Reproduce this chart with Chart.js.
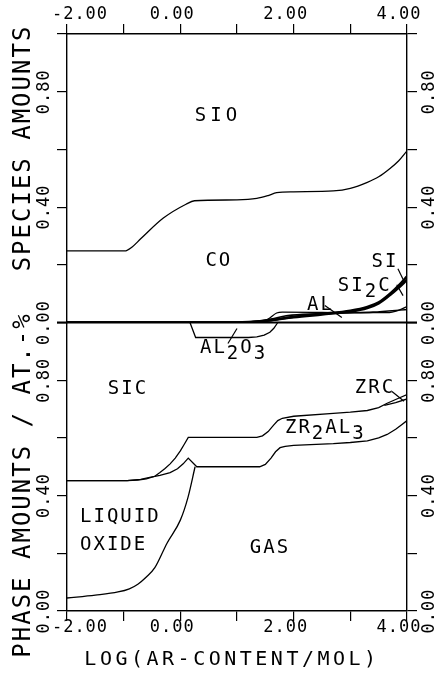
<!DOCTYPE html>
<html>
<head>
<meta charset="utf-8">
<script src="https://cdn.jsdelivr.net/npm/chart.js@4.4.1/dist/chart.umd.min.js"></script>
<style>
  html, body { margin: 0; padding: 0; background: #fff; }
  #wrap { width: 441px; height: 675px; }
</style>
</head>
<body>
<div id="wrap"><canvas id="chart" width="441" height="675"></canvas></div>
<script>
// --- DATA: x = log(Ar-content / mol) ---
const xTickValues = [-2, -1, 0, 1, 2, 3, 4];
const xTickLabels = ['-2.00', '', '0.00', '', '2.00', '', '4.00'];
const yTickValues = [0, 0.2, 0.4, 0.6, 0.8, 1.0];
const yTickLabels = ['0.00', '', '0.40', '', '0.80', ''];

// top panel: species amounts
const sioCoX = [-2, -0.98, -0.85, -0.7, -0.3, 0.1, 0.25, 1.0, 1.35, 1.55, 1.7, 2.0, 2.7, 3.0, 3.3, 3.5, 3.7, 3.85, 4.0];
const sioCoY = [0.248, 0.248, 0.262, 0.29, 0.362, 0.41, 0.422, 0.425, 0.43, 0.44, 0.45, 0.453, 0.456, 0.465, 0.486, 0.505, 0.534, 0.56, 0.595];

const humpX = [-2, 1.4, 1.55, 1.7, 1.8, 2.5, 3.0, 3.65, 3.85, 4.0];
const humpY = [0, 0, 0.012, 0.033, 0.036, 0.035, 0.034, 0.034, 0.042, 0.055];

const alX = [-2, 1.0, 1.3, 1.6, 1.9, 2.4, 2.9, 3.4, 4.0];
const alY = [0, 0, 0.003, 0.012, 0.024, 0.03, 0.033, 0.036, 0.045];

const si2cX = [-2, 1.0, 1.5, 2.0, 2.5, 3.0, 3.3, 3.5, 3.7, 3.85, 4.0];
const si2cY = [0, 0, 0.006, 0.018, 0.028, 0.038, 0.05, 0.066, 0.095, 0.12, 0.148];

const siX = [-2, 1.1, 1.6, 2.0, 2.5, 3.0, 3.3, 3.5, 3.7, 3.85, 4.0];
const siY = [0, 0, 0.008, 0.02, 0.03, 0.041, 0.054, 0.07, 0.1, 0.128, 0.16];

// bottom panel: phase amounts
const sicLowX = [-2, -0.94, -0.75, -0.6, -0.45, -0.36, -0.27, -0.18, -0.09, 0.0, 0.07, 0.14, 1.35, 1.45, 1.55, 1.65, 1.72, 1.8, 2.0, 2.7, 3.0, 3.3, 3.5, 3.65, 3.8, 4.0];
const sicLowY = [0.452, 0.452, 0.454, 0.458, 0.467, 0.48, 0.494, 0.51, 0.53, 0.555, 0.578, 0.602, 0.602, 0.607, 0.622, 0.645, 0.66, 0.668, 0.675, 0.685, 0.689, 0.695, 0.705, 0.72, 0.733, 0.75];

const zrcX = [3.6, 3.8, 4.0];
const zrcY = [0.713, 0.722, 0.735];

const gasTopX = [-2, -0.94, -0.7, -0.54, -0.36, -0.18, -0.05, 0.05, 0.14, 0.29, 1.4, 1.5, 1.6, 1.68, 1.76, 1.85, 2.0, 2.7, 3.0, 3.3, 3.5, 3.65, 3.8, 3.9, 4.0];
const gasTopY = [0.452, 0.452, 0.456, 0.463, 0.47, 0.48, 0.493, 0.51, 0.53, 0.5, 0.5, 0.508, 0.53, 0.552, 0.566, 0.571, 0.574, 0.58, 0.584, 0.59, 0.6, 0.612, 0.63, 0.645, 0.66];

const liquidX = [-2, -1.5, -1.1, -0.9, -0.75, -0.6, -0.45, -0.235, 0.0, 0.135, 0.26];
const liquidY = [0.045, 0.055, 0.066, 0.077, 0.093, 0.118, 0.15, 0.235, 0.315, 0.394, 0.5];

const al2o3X = [0.17, 0.27, 1.2, 1.35, 1.48, 1.58, 1.65, 1.72];
const al2o3Y = [1.0, 0.948, 0.948, 0.95, 0.956, 0.966, 0.98, 1.0];

// --- HELPERS ---
const FONT = '"DejaVu Sans Mono", "Liberation Mono", monospace';
const toPoints = (xs, ys) => xs.map((x, i) => ({ x: x, y: ys[i] }));

// smooth = monotone curve, otherwise straight segments (sharp knees)
function series(xs, ys, axis, width, smooth) {
    return {
        data: toPoints(xs, ys),
        yAxisID: axis,
        borderColor: '#000',
        borderWidth: width || 1.3,
        pointRadius: 0,
        fill: false,
        tension: 0,
        cubicInterpolationMode: smooth ? 'monotone' : 'default'
    };
}

function drawText(ctx, s, x, y, size, spacing, align, rot) {
    ctx.save();
    ctx.font = size + 'px ' + FONT;
    ctx.letterSpacing = spacing + 'px';
    ctx.fillStyle = '#000';
    ctx.textBaseline = 'middle';
    ctx.textAlign = align || 'center';
    ctx.translate(x, y);
    if (rot) ctx.rotate(rot);
    ctx.fillText(s, 0, 0);
    ctx.restore();
}

// label pieces: [text, vertical shift] so subscripts sit lower
function drawParts(ctx, parts, x, y, size, spacing, align) {
    ctx.save();
    ctx.font = size + 'px ' + FONT;
    ctx.letterSpacing = spacing + 'px';
    ctx.fillStyle = '#000';
    ctx.textBaseline = 'middle';
    ctx.textAlign = 'left';
    const total = parts.reduce((w, p) => w + ctx.measureText(p[0]).width, 0);
    let cx = align === 'center' ? x - total / 2 : x;
    parts.forEach(p => {
        ctx.fillText(p[0], cx, y + p[1]);
        cx += ctx.measureText(p[0]).width;
    });
    ctx.restore();
}

// annotations in data coordinates
const annotations = [
    { axis: 'yTop', x: 0.665, y: 0.717, parts: [['SIO', 0]], align: 'center', spacing: 4 },
    { axis: 'yTop', x: 0.68, y: 0.214, parts: [['CO', 0]], align: 'center' },
    { axis: 'yTop', x: 3.61, y: 0.21, parts: [['SI', 0]], align: 'center', ptr: [3.84, 0.186, 3.96, 0.138] },
    { axis: 'yTop', x: 2.78, y: 0.128, parts: [['SI', 0], ['2', 6], ['C', 0]], align: 'left', ptr: [3.82, 0.131, 3.93, 0.093] },
    { axis: 'yTop', x: 2.235, y: 0.062, parts: [['AL', 0]], align: 'left', ptr: [2.55, 0.059, 2.85, 0.017] },
    { axis: 'yBot', x: 0.347, y: 0.91, parts: [['AL', 0], ['2', 6], ['O', 0], ['3', 6]], align: 'left', ptr: [0.84, 0.927, 1.0, 0.979] },
    { axis: 'yBot', x: -0.924, y: 0.768, parts: [['SIC', 0]], align: 'center' },
    { axis: 'yBot', x: 3.435, y: 0.772, parts: [['ZRC', 0]], align: 'center', ptr: [3.735, 0.761, 3.947, 0.727] },
    { axis: 'yBot', x: 1.847, y: 0.633, parts: [['ZR', 0], ['2', 6], ['AL', 0], ['3', 6]], align: 'left' },
    { axis: 'yBot', x: -1.77, y: 0.325, parts: [['LIQUID', 0]], align: 'left' },
    { axis: 'yBot', x: -1.77, y: 0.228, parts: [['OXIDE', 0]], align: 'left' },
    { axis: 'yBot', x: 1.582, y: 0.218, parts: [['GAS', 0]], align: 'center' }
];

const decorPlugin = {
    id: 'decor',
    afterDraw(chart) {
        const ctx = chart.ctx;
        const area = chart.chartArea;
        const sx = chart.scales.x;
        const yTop = chart.scales.yTop;
        const yBot = chart.scales.yBot;

        // line between the two panels
        const midY = yTop.getPixelForValue(0);
        ctx.save();
        ctx.strokeStyle = '#000';
        ctx.lineWidth = 2;
        ctx.beginPath();
        ctx.moveTo(area.left - 10, midY);
        ctx.lineTo(area.right + 10, midY);
        ctx.stroke();
        ctx.restore();

        // x tick labels, top and bottom
        xTickValues.forEach((v, i) => {
            const lbl = xTickLabels[i];
            if (!lbl) return;
            const px = sx.getPixelForValue(v) + (i === 0 ? 13 : -8);
            drawText(ctx, lbl, px, area.top - 19, 17, 1, 'center');
            drawText(ctx, lbl, px, area.bottom + 17, 17, 1, 'center');
        });

        // y tick labels, rotated, both sides
        [yTop, yBot].forEach(sc => {
            yTickValues.forEach((v, i) => {
                const lbl = yTickLabels[i];
                if (!lbl) return;
                const py = sc.getPixelForValue(v);
                drawText(ctx, lbl, area.left - 22, py, 17, 1, 'center', -Math.PI / 2);
                drawText(ctx, lbl, area.right + 23, py, 17, 1, 'center', -Math.PI / 2);
            });
        });

        // axis titles
        drawText(ctx, 'LOG(AR-CONTENT/MOL)', (area.left + area.right) / 2 - 5, area.bottom + 49, 20, 3.5, 'center');
        drawText(ctx, 'SPECIES AMOUNTS', 24, area.top + 114, 24, 2, 'center', -Math.PI / 2);
        drawText(ctx, 'PHASE AMOUNTS / AT.-%', 24, area.top + 451, 24, 2, 'center', -Math.PI / 2);

        // species / phase labels with pointers
        annotations.forEach(a => {
            const sc = chart.scales[a.axis];
            drawParts(ctx, a.parts, sx.getPixelForValue(a.x), sc.getPixelForValue(a.y), 19, a.spacing || 2, a.align);
            if (a.ptr) {
                ctx.save();
                ctx.strokeStyle = '#000';
                ctx.lineWidth = 1.2;
                ctx.beginPath();
                ctx.moveTo(sx.getPixelForValue(a.ptr[0]), sc.getPixelForValue(a.ptr[1]));
                ctx.lineTo(sx.getPixelForValue(a.ptr[2]), sc.getPixelForValue(a.ptr[3]));
                ctx.stroke();
                ctx.restore();
            }
        });
    }
};

// --- SCALES ---
const gridOpts = { drawOnChartArea: false, drawTicks: true, tickLength: 10, color: '#000', lineWidth: 1.2 };
const borderOpts = { display: true, color: '#000', width: 1.4 };

function xScale(position, height) {
    return {
        type: 'linear', position: position, min: -2, max: 4,
        afterBuildTicks: s => { s.ticks = xTickValues.map(v => ({ value: v })); },
        ticks: { display: false },
        grid: gridOpts, border: borderOpts,
        afterFit: s => { s.height = height; }
    };
}

function yScale(position, stack, weight, width) {
    return {
        type: 'linear', position: position, stack: stack, weight: weight, min: 0, max: 1,
        afterBuildTicks: s => { s.ticks = yTickValues.map(v => ({ value: v })); },
        ticks: { display: false },
        grid: gridOpts, border: borderOpts,
        afterFit: s => { s.width = width; }
    };
}

new Chart(document.getElementById('chart'), {
    type: 'line',
    data: {
        datasets: [
            series(sioCoX, sioCoY, 'yTop', 1.3, true),
            series(humpX, humpY, 'yTop', 1.3, true),
            series(alX, alY, 'yTop', 1.6, true),
            series(si2cX, si2cY, 'yTop', 2.6, true),
            series(siX, siY, 'yTop', 2.4, true),
            series(sicLowX, sicLowY, 'yBot'),
            series(zrcX, zrcY, 'yBot'),
            series(gasTopX, gasTopY, 'yBot'),
            series(liquidX, liquidY, 'yBot', 1.3, true),
            series(al2o3X, al2o3Y, 'yBot')
        ]
    },
    options: {
        responsive: false,
        animation: false,
        devicePixelRatio: 1,
        layout: { padding: 0 },
        plugins: { legend: { display: false }, tooltip: { enabled: false } },
        scales: {
            x: xScale('bottom', 64),
            xTop: xScale('top', 34),
            // left stack: higher weight is placed on top
            yTop: yScale('left', 'left', 1, 67),
            yBot: yScale('left', 'left', 0, 67),
            // right stack: lower weight is placed on top
            yTopR: yScale('right', 'right', 0, 34),
            yBotR: yScale('right', 'right', 1, 34)
        }
    },
    plugins: [decorPlugin]
});
</script>
</body>
</html>
